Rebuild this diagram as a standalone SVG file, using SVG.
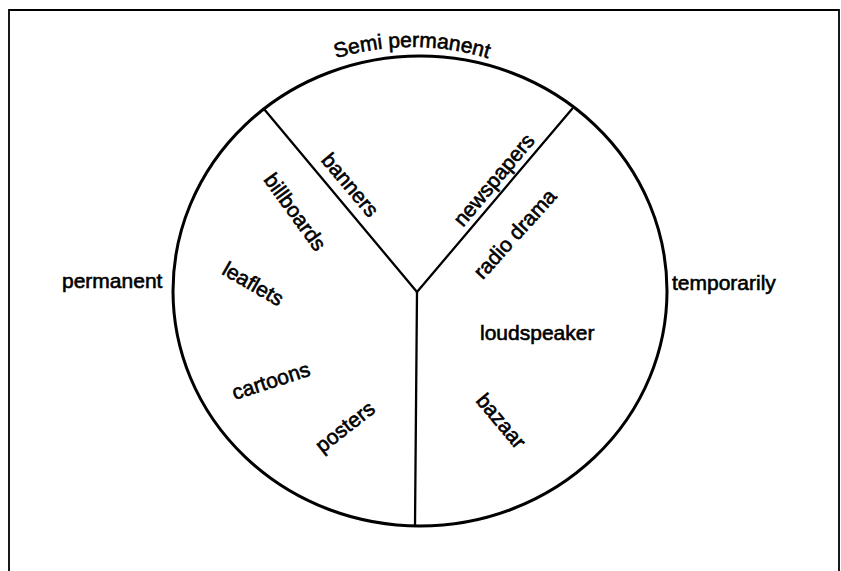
<svg xmlns="http://www.w3.org/2000/svg" width="841" height="571" viewBox="0 0 841 571">
<style>
  text { font-family: "Liberation Sans", Arial, Helvetica, sans-serif; font-size: 21px; fill: #000; stroke: #000; stroke-width: 0.6; }
  .lbl { text-anchor: middle; }
  .ln { fill: none; stroke: #000; stroke-width: 2.3; stroke-linecap: round; }
</style>
<defs>
  <path id="arcTop" d="M245.5,107.6 A259,259 0 0 1 578.5,107.6"/>
</defs>
<rect x="0" y="0" width="841" height="571" fill="#fff"/>
<g id="frame"><path d="M9,571 V10 H839 V571" fill="none" stroke="#000" stroke-width="1.8"/></g>
<g id="wheel"><ellipse cx="420" cy="291" rx="247" ry="235" fill="none" stroke="#000" stroke-width="3"/></g>
<g id="connectors">
  <path class="ln" d="M264,109 L417,292"/>
  <path class="ln" d="M572,109 L417,292"/>
  <path class="ln" d="M417,292 L415,526"/>
</g>
<g id="semi-permanent"><text><textPath href="#arcTop" startOffset="50%" text-anchor="middle">Semi permanent</textPath></text></g>
<g id="permanent"><text x="62" y="288">permanent</text></g>
<g id="temporarily"><text x="672" y="290">temporarily</text></g>
<g id="loudspeaker"><text x="480" y="340">loudspeaker</text></g>
<g id="banners"><text class="lbl" transform="translate(350,185) rotate(50)" y="7">banners</text></g>
<g id="billboards"><text class="lbl" transform="translate(295,212) rotate(54)" y="7">billboards</text></g>
<g id="leaflets"><text class="lbl" transform="translate(253,284) rotate(30)" y="7">leaflets</text></g>
<g id="cartoons"><text class="lbl" transform="translate(271,381) rotate(-18)" y="7">cartoons</text></g>
<g id="posters"><text class="lbl" transform="translate(345,427) rotate(-38)" y="7">posters</text></g>
<g id="newspapers"><text class="lbl" transform="translate(494,180) rotate(-50)" y="7">newspapers</text></g>
<g id="radio-drama"><text class="lbl" transform="translate(515,234) rotate(-48)" y="7">radio drama</text></g>
<g id="bazaar"><text class="lbl" transform="translate(501,421) rotate(50)" y="7">bazaar</text></g>
</svg>
